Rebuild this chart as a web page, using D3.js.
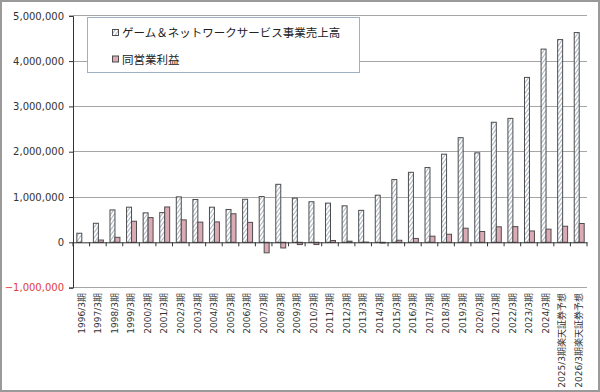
<!DOCTYPE html>
<html><head><meta charset="utf-8">
<script src="https://cdn.jsdelivr.net/npm/d3@7"></script>
<style>body{margin:0;background:#fff}svg{display:block}</style>
</head><body>
<script>
const categories = ["1996/3期","1997/3期","1998/3期","1999/3期","2000/3期","2001/3期","2002/3期","2003/3期","2004/3期","2005/3期","2006/3期","2007/3期","2008/3期","2009/3期","2010/3期","2011/3期","2012/3期","2013/3期","2014/3期","2015/3期","2016/3期","2017/3期","2018/3期","2019/3期","2020/3期","2021/3期","2022/3期","2023/3期","2024/3期","2025/3期楽天証券予想","2026/3期楽天証券予想"];
const sales = [200000,420000,715000,775000,650000,655000,1003000,945000,775000,725000,950000,1010000,1280000,975000,895000,865000,805000,705000,1040000,1385000,1545000,1650000,1945000,2310000,1975000,2650000,2735000,3640000,4265000,4475000,4630000];
const opIncome = [0,50000,110000,465000,545000,780000,495000,445000,450000,630000,440000,-232000,-125000,-50000,-50000,40000,25000,5000,-15000,45000,85000,135000,177000,311000,238000,342000,346000,250000,290000,355000,415000];
const yTicks = [-1000000,0,1000000,2000000,3000000,4000000,5000000];
const seriesNames = ["ゲーム＆ネットワークサービス事業売上高","同営業利益"];

const W=600,H=392;
const svg=d3.select("body").append("svg").attr("width",W).attr("height",H);
const defs=svg.append("defs");
const pat=defs.append("pattern").attr("id","hatch").attr("patternUnits","userSpaceOnUse")
  .attr("width",3).attr("height",3).attr("patternTransform","rotate(35)");
pat.append("rect").attr("width",3).attr("height",3).attr("fill","#fff");
pat.append("line").attr("x1",0.5).attr("y1",0).attr("x2",0.5).attr("y2",3).attr("stroke","#a9b4c2").attr("stroke-width",1);

svg.append("rect").attr("x",1).attr("y",1).attr("width",W-2).attr("height",H-2)
  .attr("fill","#fff").attr("stroke","#9a9a9a").attr("stroke-width",2);

const left=73,right=587;
const y=d3.scaleLinear().domain([-1000000,5000000]).range([287.6,15.8]);
const x=d3.scaleBand().domain(categories).range([left,right]).paddingInner(0).paddingOuter(0);
const bw=x.bandwidth()*0.3;

// gridlines
svg.append("g").selectAll("line").data(yTicks.filter(d=>d!==0)).join("line")
  .attr("x1",left).attr("x2",right).attr("y1",d=>y(d)).attr("y2",d=>y(d))
  .attr("stroke","#a6a6a6").attr("stroke-width",1).attr("shape-rendering","crispEdges");

// y axis
const yAxis=d3.axisLeft(y).tickValues(yTicks).tickSize(4).tickFormat(d3.format(","));
const ya=svg.append("g").attr("transform",`translate(${left},0)`).call(yAxis);
ya.select(".domain").attr("stroke","#333");
ya.selectAll(".tick line").attr("stroke","#333");
ya.selectAll("text").attr("font-family","DejaVu Sans, Verdana, sans-serif").attr("font-size",10)
  .attr("fill",d=>d<0?"#e03c3c":"#333").attr("x",-9);

// bars
const g=svg.append("g");
g.selectAll("rect.s").data(sales).join("rect").attr("class","s")
  .attr("x",(d,i)=>x(categories[i])+x.bandwidth()/2-bw+0.5)
  .attr("y",d=>Math.min(y(d),y(0))).attr("width",bw).attr("height",d=>Math.abs(y(d)-y(0)))
  .attr("fill","url(#hatch)").attr("stroke","#4d4d4d").attr("stroke-width",1);
g.selectAll("rect.o").data(opIncome).join("rect").attr("class","o")
  .attr("x",(d,i)=>x(categories[i])+x.bandwidth()/2+0.5)
  .attr("y",d=>Math.min(y(d),y(0))).attr("width",bw).attr("height",d=>Math.abs(y(d)-y(0)))
  .attr("fill","#dcaab4").attr("stroke","#4d4d4d").attr("stroke-width",1);

// x axis at zero
const xAxis=d3.axisBottom(x).tickSize(0).tickFormat("");
const xa=svg.append("g").attr("transform",`translate(0,${y(0)})`).call(xAxis);
xa.select(".domain").attr("stroke","#333");
svg.append("g").selectAll("line").data(d3.range(categories.length+1)).join("line")
  .attr("x1",i=>left+i*x.step()).attr("x2",i=>left+i*x.step())
  .attr("y1",y(0)).attr("y2",y(0)+4).attr("stroke","#333");

// x labels
svg.append("g").selectAll("text").data(categories).join("text")
  .attr("transform",d=>`translate(${x(d)+x.bandwidth()/2+3.3},293) rotate(-90)`)
  .attr("text-anchor","end").attr("font-family","DejaVu Sans, 'Noto Sans CJK JP', sans-serif")
  .attr("font-size",9).attr("fill","#333").text(d=>d);

// legend
const lg=svg.append("g");
lg.append("rect").attr("x",87.5).attr("y",17.5).attr("width",272).attr("height",55)
  .attr("fill","#fff").attr("stroke","#9fb0c4").attr("stroke-width",1);
const items=[{n:seriesNames[0],f:"url(#hatch)",cy:32.5},{n:seriesNames[1],f:"#dcaab4",cy:59}];
items.forEach(it=>{
  lg.append("rect").attr("x",112.5).attr("y",it.cy-3).attr("width",6).attr("height",6)
    .attr("fill",it.f).attr("stroke","#4d4d4d");
  lg.append("text").attr("x",122).attr("y",it.cy+4.5).attr("font-family","'Noto Sans CJK JP', sans-serif")
    .attr("font-size",11.5).attr("fill","#222").text(it.n);
});
</script>
</body></html>
